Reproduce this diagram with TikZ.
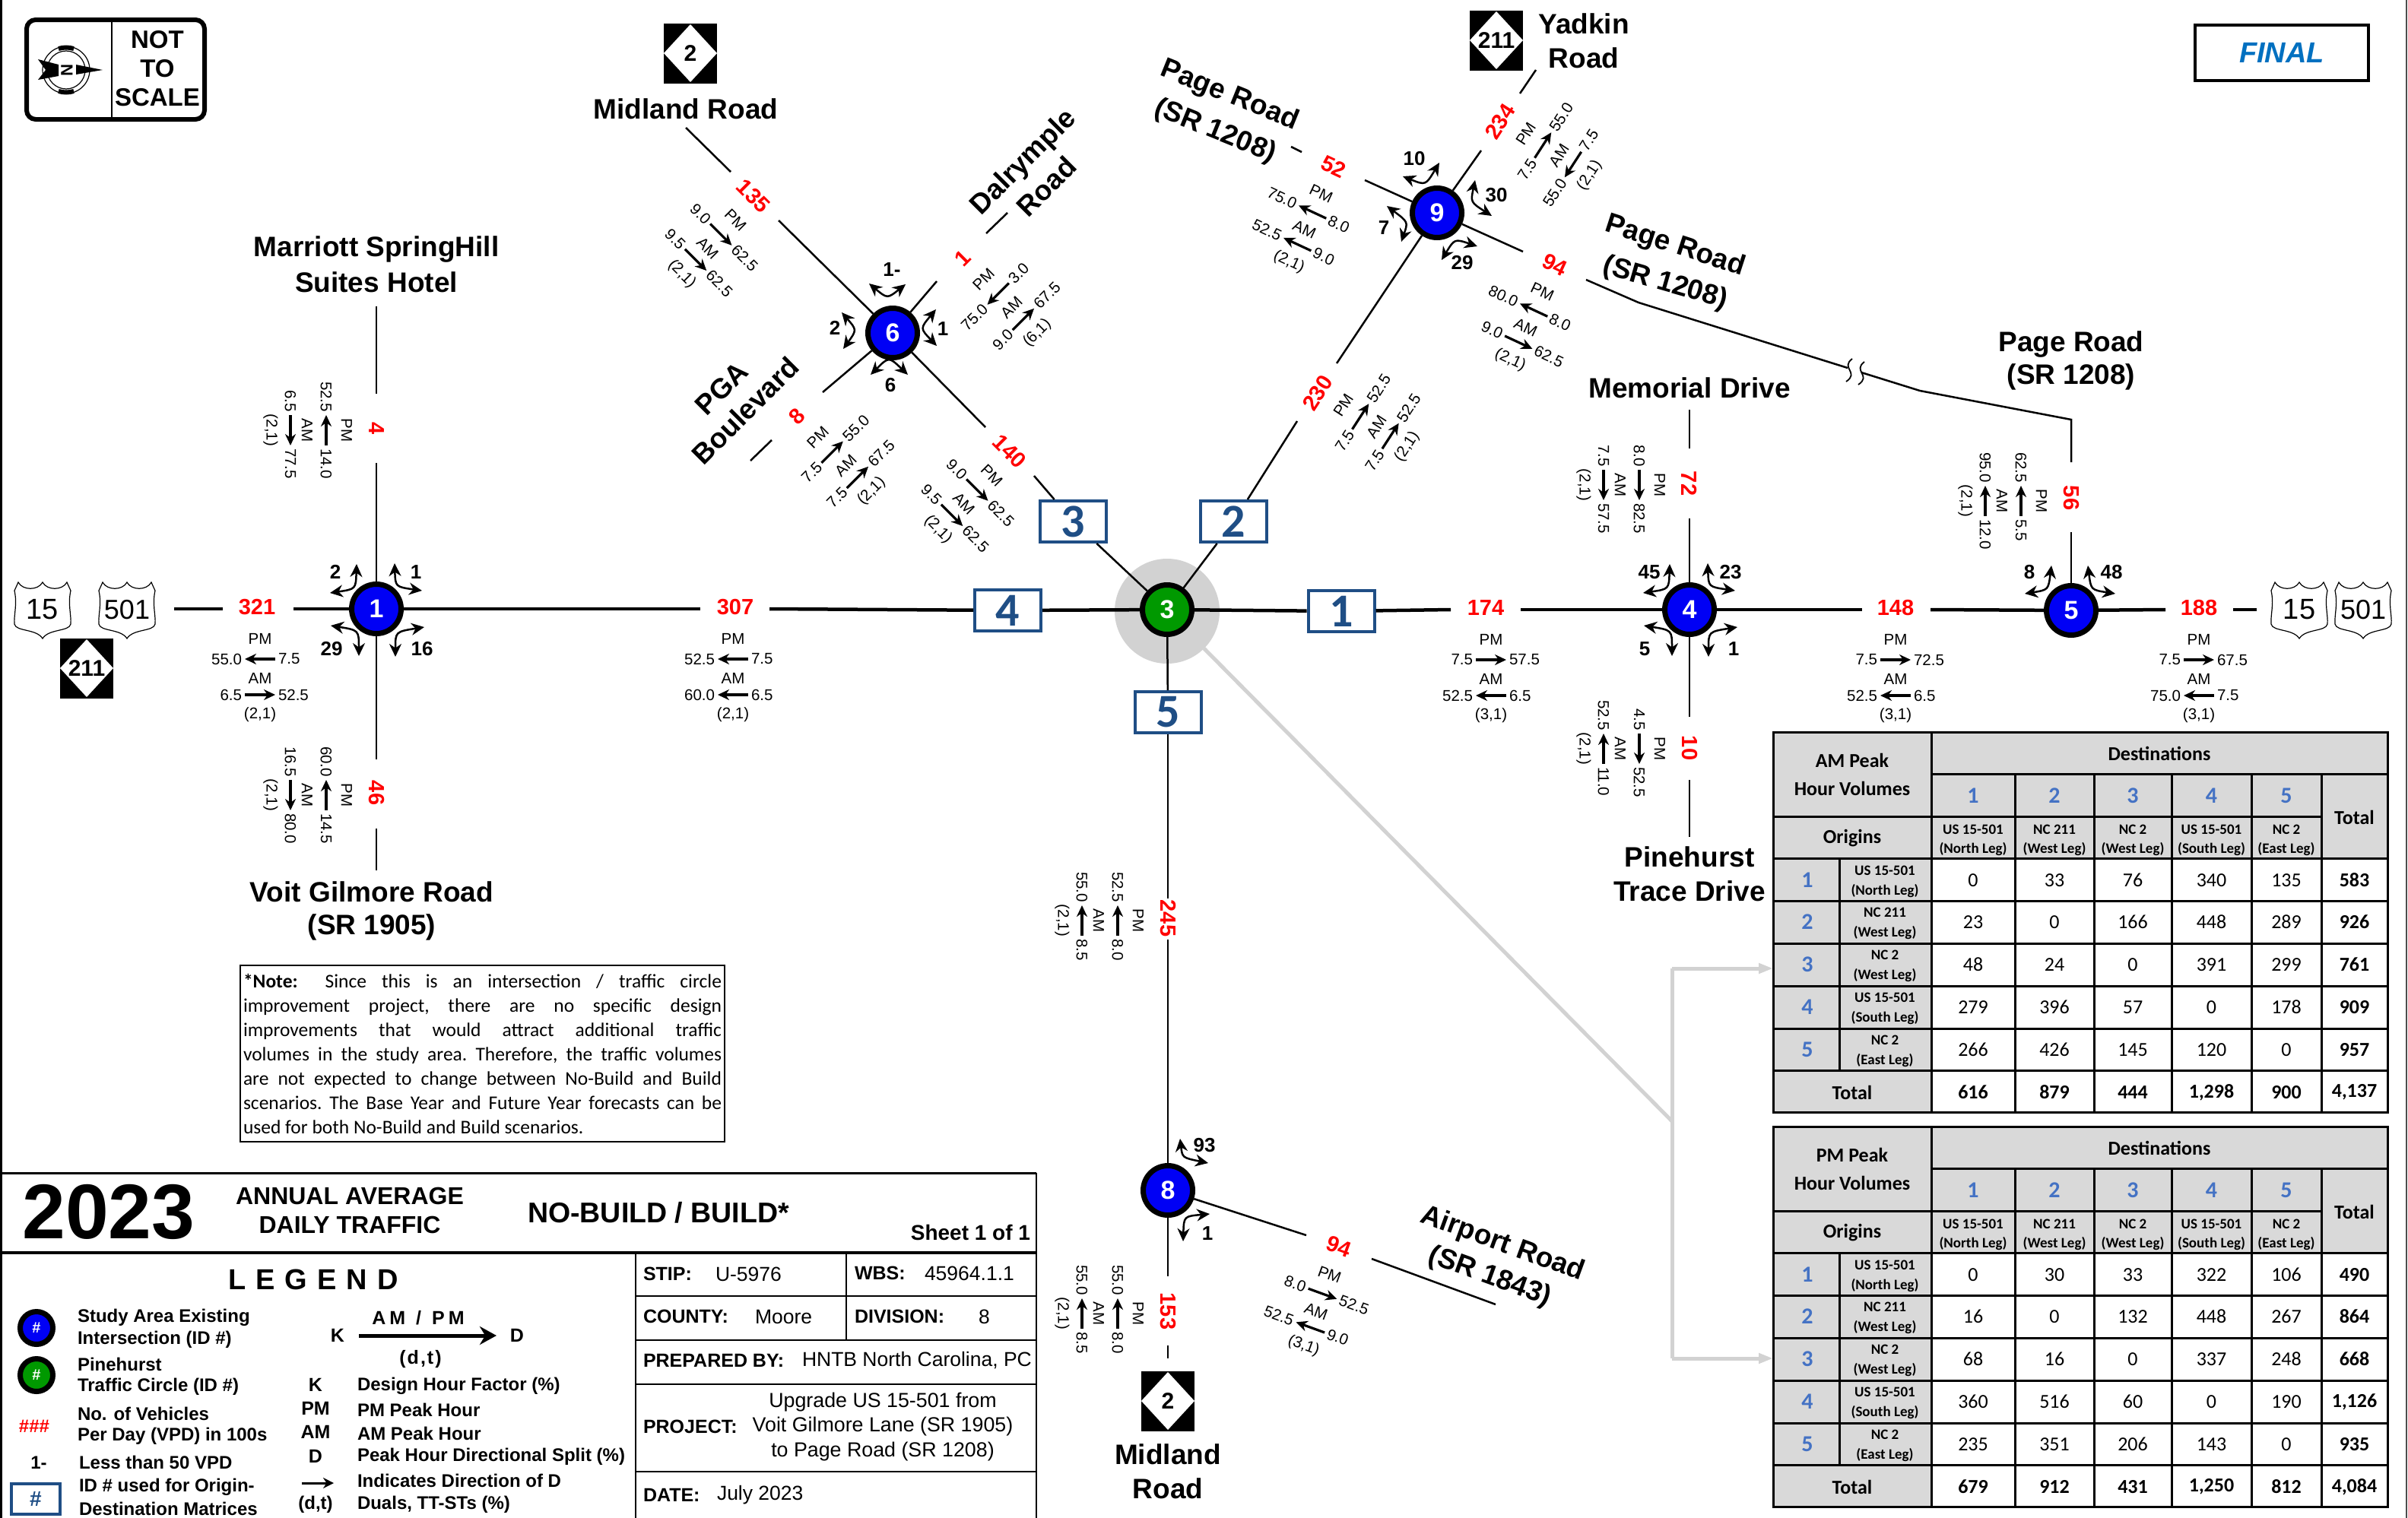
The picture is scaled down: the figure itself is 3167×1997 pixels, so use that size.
\documentclass[tikz,border=0pt]{standalone}
\usepackage{fontspec}
\setmainfont{Liberation Sans}
\newfontfamily\carl{Carlito}
\usetikzlibrary{arrows.meta,shapes.geometric}
\definecolor{boxblue}{HTML}{1F4E85}
\definecolor{tabgray}{HTML}{D9D9D9}
\definecolor{halogray}{HTML}{D2D2D2}
\definecolor{tabblue}{HTML}{4472C4}
\definecolor{finalblue}{HTML}{0070C0}
\definecolor{nodeblue}{HTML}{0000F5}
\definecolor{nodegreen}{HTML}{009900}
\newcounter{tn}
\newcommand{\FS}[1]{\fontsize{#1}{#1}\selectfont}
\tikzset{
  lbl/.style={inner sep=0pt,outer sep=0pt},
  vt/.style={font=\FS{20.5}},
  rdt/.style={font=\FS{29}\bfseries,text=red},
  turnnum/.style={font=\FS{26}\bfseries},
  rname/.style={font=\FS{37}\bfseries},
  isect/.style={circle,draw=black,line width=7pt,fill=nodeblue,minimum size=65pt,inner sep=0pt,text=white,font=\FS{34}\bfseries},
  odbox/.style={rectangle,draw=boxblue,line width=4pt,fill=white,minimum width=87pt,minimum height=54pt,inner sep=0pt,text=boxblue,font=\carl\FS{62}\bfseries},
  mainroad/.style={line width=4.5pt},
  thinroad/.style={line width=2.5pt},
  volarrow/.style={line width=3.2pt,>={Stealth[length=15pt,width=14pt]}},
  turnarrow/.style={line width=2.5pt,{Stealth[length=17pt,width=16pt]}-{Stealth[length=17pt,width=16pt]}},
  greyline/.style={line width=5pt,draw=halogray},
  tabline/.style={line width=3pt},
  legtxt/.style={font=\FS{24}\bfseries,anchor=west},
  blk/.style={font=\FS{25}\bfseries,anchor=west},
  blv/.style={font=\FS{26.5},anchor=west},
  tdat/.style={font=\carl\FS{26}},
  tbold/.style={font=\carl\FS{26}\bfseries},
  tsub/.style={font=\carl\FS{19}\bfseries},
  tidx/.style={font=\carl\FS{30}\bfseries,text=tabblue},
}
\newcommand{\mytx}[3]{\stepcounter{tn}\node[lbl,#1] (t\arabic{tn}) at (#2) {#3};}
\newcommand{\redl}[3]{\mytx{rdt,rotate=#2}{#1}{#3}}
\newcommand{\myvol}[9]{\begin{scope}[shift={(#1)},rotate=#2,transform shape]
  \mytx{vt}{0,39}{PM}
  \mytx{vt,anchor=east}{-24,66}{#3}
  \draw[volarrow,#4] (-20,66) -- (20,66);
  \mytx{vt,anchor=west}{24,66}{#5}
  \mytx{vt}{0,91}{AM}
  \mytx{vt,anchor=east}{-24,113}{#6}
  \draw[volarrow,#7] (-20,113) -- (20,113);
  \mytx{vt,anchor=west}{24,113}{#8}
  \mytx{vt}{0,139}{#9}
\end{scope}}
\newcommand{\myturn}[3]{\draw[turnarrow] (#1) .. controls (#2) .. (#3);}
\newcommand{\ncsign}[3]{\begin{scope}[shift={(#1)}]
  \fill[black] (-35,-39.5) rectangle (35,39.5);
  \fill[white] (0,-38) -- (35,0) -- (0,38) -- (-35,0) -- cycle;
  \mytx{font=\FS{#3}\bfseries}{0,0}{#2}
\end{scope}}
\newcommand{\ussign}[3]{\begin{scope}[shift={(#1)}]
  \draw[line width=1.2pt,fill=white] (-37,-26) -- (-32,-37) .. controls (-26,-26) and (-6,-26) .. (0,-37)
     .. controls (6,-26) and (26,-26) .. (32,-37) -- (37,-26)
     .. controls (33,-8) and (38,6) .. (37,18) .. controls (35,28) and (8,24) .. (0,37)
     .. controls (-8,24) and (-35,28) .. (-37,18) .. controls (-38,6) and (-33,-8) .. (-37,-26) -- cycle;
  \mytx{font=\FS{#3}}{0,-1}{#2}
\end{scope}}
\newcommand{\trow}[7]{
  \mytx{tdat}{2595,#1}{#2}\mytx{tdat}{2702,#1}{#3}\mytx{tdat}{2805,#1}{#4}
  \mytx{tdat}{2908.5,#1}{#5}\mytx{tdat}{3007,#1}{#6}\mytx{tbold}{3096.5,#1}{#7}}
\newcommand{\tleft}[4]{
  \mytx{tidx}{2377,#1}{#2}\mytx{tsub}{2479,#1-13}{#3}\mytx{tsub}{2479,#1+14}{#4}}
\newcommand{\odtable}[2]{\begin{scope}[shift={(0,#1)}]
  \fill[tabgray] (2332,963) rectangle (3140,1129);
  \fill[tabgray] (2332,1129) rectangle (2540,1463);
  \draw[tabline] (2332,963) rectangle (3140,1463);
  \draw[tabline] (2540,1018) -- (3140,1018);
  \draw[tabline] (2332,1074) -- (3053,1074);
  \foreach \yy in {1129,1185,1241,1297,1353,1408} \draw[tabline] (2332,\yy) -- (3140,\yy);
  \draw[tabline] (2540,963) -- (2540,1463);
  \draw[tabline] (2419,1129) -- (2419,1408);
  \foreach \xx in {2650,2754,2856,2961,3053} \draw[tabline] (\xx,1018) -- (\xx,1463);
  \mytx{tbold}{2436,1000}{#2 Peak}
  \mytx{tbold}{2436,1037}{Hour Volumes}
  \mytx{tbold}{2840,991}{Destinations}
  \mytx{tbold}{2436,1103}{Origins}
  \mytx{tbold}{3096.5,1075}{Total}
  \mytx{tidx}{2595,1047}{1}\mytx{tidx}{2702,1047}{2}\mytx{tidx}{2805,1047}{3}\mytx{tidx}{2908.5,1047}{4}\mytx{tidx}{3007,1047}{5}
  \mytx{tsub}{2595,1091}{US 15-501}\mytx{tsub}{2595,1117}{(North Leg)}
  \mytx{tsub}{2702,1091}{NC 211}\mytx{tsub}{2702,1117}{(West Leg)}
  \mytx{tsub}{2805,1091}{NC 2}\mytx{tsub}{2805,1117}{(West Leg)}
  \mytx{tsub}{2908.5,1091}{US 15-501}\mytx{tsub}{2908.5,1117}{(South Leg)}
  \mytx{tsub}{3007,1091}{NC 2}\mytx{tsub}{3007,1117}{(East Leg)}
  \tleft{1158}{1}{US 15-501}{(North Leg)}
  \tleft{1213}{2}{NC 211}{(West Leg)}
  \tleft{1269}{3}{NC 2}{(West Leg)}
  \tleft{1325}{4}{US 15-501}{(South Leg)}
  \tleft{1381}{5}{NC 2}{(East Leg)}
  \mytx{tbold}{2436,1437}{Total}
\end{scope}}
\newcommand{\jl}[1]{\hbox to \linewidth{#1}\par}
\begin{document}
\begin{tikzpicture}[x=1pt,y=-1pt]
\useasboundingbox (0,0) rectangle (3167,1997);
\fill[white] (0,0) rectangle (3167,1997);
\draw[line width=4pt] (1,0) -- (1,1997);
\draw[line width=1.5pt,draw=black!70] (3165,0) -- (3165,1997);

% north / scale sign
\draw[line width=6pt,rounded corners=12pt] (35,26) rectangle (269,157);
\draw[line width=2.5pt] (147,26) -- (147,157);
\mytx{font=\FS{33}\bfseries}{207,52}{NOT}
\mytx{font=\FS{33}\bfseries}{207,90}{TO}
\mytx{font=\FS{33}\bfseries}{207,128}{SCALE}
\draw[line width=1.2pt] (87,92) circle[radius=31pt];
\draw[line width=1.2pt] (87,92) circle[radius=25pt];
\draw[line width=6pt] (77,64) .. controls (84,62) and (90,62) .. (97,64);
\draw[line width=6pt] (77,120) .. controls (84,122) and (90,122) .. (97,120);
\fill (50,78) -- (77,85) -- (77,100) -- (50,105) -- (60,92) -- cycle;
\fill (100,85) -- (135,92) -- (100,98) -- cycle;
\mytx{font=\FS{22}\bfseries,rotate=-90}{88,92}{N}

% FINAL
\node[lbl,draw=black,line width=3.5pt,minimum width=228pt,minimum height=73pt,text=finalblue,font=\FS{38}\bfseries\itshape] (finalbox) at (3001,69.5) {FINAL};

% intersections
\node[lbl,circle,fill=halogray,minimum size=138pt] (halo) at (1535,804) {};
\coordinate (gj) at (2199,1475);
\coordinate (gt) at (2199,1274);
\coordinate (gb) at (2199,1787);
\coordinate (gat) at (2332,1274);
\coordinate (gab) at (2332,1787);
\draw[greyline] (halo) -- (gj);
\draw[greyline] (gt) -- (gb);
\draw[greyline,-{Triangle[length=19pt,width=13pt]}] (gt) -- (gat);
\draw[greyline,-{Triangle[length=19pt,width=13pt]}] (gb) -- (gab);

\node[isect] (n1) at (495,801) {1};
\node[isect,fill=nodegreen] (n3) at (1535,802) {3};
\node[isect] (n4) at (2222,802) {4};
\node[isect] (n5) at (2724,803) {5};
\node[isect] (n6) at (1174,438) {6};
\node[isect] (n8) at (1536,1566) {8};
\node[isect] (n9) at (1890,280) {9};

\node[odbox] (box1) at (1764,804) {1};
\node[odbox] (box2) at (1622.5,686) {2};
\node[odbox] (box3) at (1411.5,686) {3};
\node[odbox] (box4) at (1325.5,803) {4};
\node[odbox] (box5) at (1536,937) {5};

% horizontal road
\coordinate (h1) at (229,801); \coordinate (h2) at (293,801); \coordinate (h3) at (386,801);
\coordinate (h4) at (921,801); \coordinate (h5) at (1012,801);
\coordinate (h6) at (1908,802); \coordinate (h7) at (2000,802);
\coordinate (h8) at (2449,802); \coordinate (h9) at (2539,802);
\coordinate (h10) at (2848,802); \coordinate (h11) at (2937,802); \coordinate (h12) at (2968,802);
\draw[mainroad] (h1) -- (h2);
\draw[mainroad] (h3) -- (n1);
\draw[mainroad] (n1) -- (h4);
\draw[mainroad] (h5) -- (box4);
\draw[mainroad] (box4) -- (n3);
\draw[mainroad] (n3) -- (box1);
\draw[mainroad] (box1) -- (h6);
\draw[mainroad] (h7) -- (n4);
\draw[mainroad] (n4) -- (h8);
\draw[mainroad] (h9) -- (n5);
\draw[mainroad] (n5) -- (h10);
\draw[mainroad] (h11) -- (h12);

% N1 legs
\coordinate (a1) at (495,403); \coordinate (a2) at (495,518); \coordinate (a3) at (495,609);
\coordinate (a4) at (495,999); \coordinate (a5) at (495,1090); \coordinate (a6) at (495,1145);
\draw[thinroad] (a1) -- (a2);
\draw[thinroad] (a3) -- (n1);
\draw[thinroad] (n1) -- (a4);
\draw[thinroad] (a5) -- (a6);
% N3 / N8
\draw[thinroad] (n3) -- (box5);
\coordinate (b1) at (1536,1182); \coordinate (b2) at (1536,1236);
\coordinate (b3) at (1536,1679); \coordinate (b4) at (1536,1770); \coordinate (b5) at (1536,1787);
\draw[thinroad] (box5) -- (b1);
\draw[thinroad] (b2) -- (n8);
\draw[thinroad] (n8) -- (b3);
\draw[thinroad] (b4) -- (b5);
\coordinate (c1) at (1718,1625); \coordinate (c2) at (1804,1656); \coordinate (c3) at (1967,1716);
\draw[thinroad] (n8) -- (c1);
\draw[thinroad] (c2) -- (c3);
% N4
\coordinate (d1) at (2222,539); \coordinate (d2) at (2222,590); \coordinate (d3) at (2222,682);
\coordinate (d4) at (2222,943); \coordinate (d5) at (2222,1026); \coordinate (d6) at (2222,1101);
\draw[thinroad] (d1) -- (d2);
\draw[thinroad] (d3) -- (n4);
\draw[thinroad] (n4) -- (d4);
\draw[thinroad] (d5) -- (d6);
% N6
\coordinate (e1) at (902,168); \coordinate (e2) at (961,226); \coordinate (e3) at (1024,290);
\coordinate (e4) at (1296,562); \coordinate (e5) at (1360,626);
\coordinate (e6) at (1232,370); \coordinate (e7) at (1297,307); \coordinate (e8) at (1325,280);
\coordinate (e9) at (1082,516); \coordinate (e10) at (1015,579); \coordinate (e11) at (987,606);
\draw[thinroad] (e1) -- (e2);
\draw[thinroad] (e3) -- (n6);
\draw[thinroad] (n6) -- (e4);
\draw[thinroad] (e5) -- (box3);
\draw[thinroad] (box3) -- (n3);
\draw[thinroad] (n6) -- (e6);
\draw[thinroad] (e7) -- (e8);
\draw[thinroad] (n6) -- (e9);
\draw[thinroad] (e10) -- (e11);
% N9
\coordinate (f1) at (1698,193); \coordinate (f2) at (1712,200); \coordinate (f3) at (1795,237);
\coordinate (f4) at (2003,331); \coordinate (f5) at (2086,368); \coordinate (f6) at (2155,398);
\coordinate (f7) at (2430,484); \coordinate (f8) at (2448,490); \coordinate (f9) at (2525,514);
\coordinate (f10) at (2724,552); \coordinate (f11) at (2724,608); \coordinate (f12) at (2724,700);
\coordinate (f13) at (1948,198); \coordinate (f14) at (1999,123); \coordinate (f15) at (2020,92);
\coordinate (f16) at (1758,478); \coordinate (f17) at (1706,554);
\draw[thinroad] (f1) -- (f2);
\draw[thinroad] (f3) -- (n9);
\draw[thinroad] (n9) -- (f4);
\draw[thinroad] (f5) -- (f6) -- (f7);
\draw[thinroad] (f8) -- (f9) -- (f10) -- (f11);
\draw[thinroad] (f12) -- (n5);
\draw[thinroad] (n9) -- (f13);
\draw[thinroad] (f14) -- (f15);
\draw[thinroad] (n9) -- (f16);
\draw[thinroad] (f17) -- (box2);
\draw[thinroad] (box2) -- (n3);
\draw[line width=1.8pt] (2436,472) .. controls (2420,484) and (2446,490) .. (2428,502);
\draw[line width=1.8pt] (2452,476) .. controls (2436,488) and (2462,494) .. (2444,506);

% turning arrows N1
\myturn{469,742}{468,775}{434,780}
\myturn{519,741}{520,772}{555,777}
\myturn{435,823}{472,829}{472,863}
\myturn{558,825}{520,831}{520,864}
\mytx{turnnum}{441,752}{2}\mytx{turnnum}{547,753}{1}\mytx{turnnum}{436,854}{29}\mytx{turnnum}{555,854}{16}
% N4
\myturn{2196,742}{2195,775}{2161,780}
\myturn{2246,741}{2247,772}{2282,777}
\myturn{2162,823}{2199,829}{2199,863}
\myturn{2285,825}{2247,831}{2247,864}
\mytx{turnnum}{2169,753}{45}\mytx{turnnum}{2276,753}{23}\mytx{turnnum}{2163,854}{5}\mytx{turnnum}{2280,854}{1}
% N5
\myturn{2698,744}{2694,776}{2663,781}
\myturn{2746,744}{2750,776}{2782,781}
\mytx{turnnum}{2669,753}{8}\mytx{turnnum}{2777,753}{48}
% N8
\myturn{1552,1498}{1555,1523}{1589,1530}
\myturn{1591,1597}{1557,1600}{1556,1633}
\mytx{turnnum}{1584,1507}{93}\mytx{turnnum}{1588,1623}{1}
% N6
\myturn{1143,373}{1167,393}{1191,374}
\myturn{1231,407}{1210,432}{1232,455}
\myturn{1145,493}{1169,469}{1194,493}
\myturn{1107,411}{1127,434}{1109,459}
\mytx{turnnum}{1173,355}{1-}\mytx{turnnum}{1240,433}{1}\mytx{turnnum}{1171,507}{6}\mytx{turnnum}{1098,431}{2}
% N9
\myturn{1893,214}{1875,244}{1845,232}
\myturn{1940,237}{1934,266}{1962,284}
\myturn{1943,324}{1913,314}{1896,342}
\myturn{1824,271}{1852,292}{1843,318}
\mytx{turnnum}{1860,209}{10}\mytx{turnnum}{1968,257}{30}\mytx{turnnum}{1923,346}{29}\mytx{turnnum}{1820,300}{7}

% red volumes
\redl{338,799}{0}{321}
\redl{967,799}{0}{307}
\redl{1954,800}{0}{174}
\redl{2493,800}{0}{148}
\redl{2892,800}{0}{188}
\redl{495,564}{-90}{4}
\redl{495,1043}{-90}{46}
\redl{2222,636}{-90}{72}
\redl{2222,984}{-90}{10}
\redl{2724,655}{-90}{56}
\redl{1536,1208}{-90}{245}
\redl{1536,1725}{-90}{153}
\redl{991,258}{-45}{135}
\redl{1328,594}{-45}{140}
\redl{1266,340}{45}{1}
\redl{1048,548}{45}{8}
\redl{1754,219}{-25}{52}
\redl{2045,348}{-25}{94}
\redl{1733,517}{57}{230}
\redl{1973,160}{57}{234}
\redl{1761,1640}{-20}{94}

% volume blocks
\myvol{342,801}{0}{55.0}{<-}{7.5}{6.5}{->}{52.5}{(2,1)}
\myvol{964,801}{0}{52.5}{<-}{7.5}{60.0}{<-}{6.5}{(2,1)}
\myvol{1961,802}{0}{7.5}{->}{57.5}{52.5}{<-}{6.5}{(3,1)}
\myvol{2493,802}{0}{7.5}{->}{72.5}{52.5}{<-}{6.5}{(3,1)}
\myvol{2892,802}{0}{7.5}{->}{67.5}{75.0}{<-}{7.5}{(3,1)}
\myvol{495,566}{-90}{52.5}{<-}{14.0}{6.5}{->}{77.5}{(2,1)}
\myvol{495,1046}{-90}{60.0}{<-}{14.5}{16.5}{->}{80.0}{(2,1)}
\myvol{2222,638}{-90}{8.0}{->}{82.5}{7.5}{->}{57.5}{(2,1)}
\myvol{2222,985}{-90}{4.5}{->}{52.5}{52.5}{<-}{11.0}{(2,1)}
\myvol{2724,659}{-90}{62.5}{<-}{5.5}{95.0}{<-}{12.0}{(2,1)}
\myvol{1536,1211}{-90}{52.5}{<-}{8.0}{55.0}{<-}{8.5}{(2,1)}
\myvol{1536,1728}{-90}{55.0}{<-}{8.0}{55.0}{<-}{8.5}{(2,1)}
\myvol{995,262}{-45}{9.0}{->}{62.5}{9.5}{->}{62.5}{(2,1)}
\myvol{1332,598}{-45}{9.0}{->}{62.5}{9.5}{->}{62.5}{(2,1)}
\myvol{1266,340}{45}{75.0}{<-}{3.0}{9.0}{->}{67.5}{(6,1)}
\myvol{1048,548}{45}{7.5}{->}{55.0}{7.5}{->}{67.5}{(2,1)}
\myvol{1754,219}{-25}{75.0}{<-}{8.0}{52.5}{<-}{9.0}{(2,1)}
\myvol{2045,348}{-25}{80.0}{<-}{8.0}{9.0}{->}{62.5}{(2,1)}
\myvol{1734,512}{57}{7.5}{->}{52.5}{7.5}{->}{52.5}{(2,1)}
\myvol{1974,155}{57}{7.5}{->}{55.0}{55.0}{<-}{7.5}{(2,1)}
\myvol{1762,1640}{-20}{8.0}{->}{52.5}{52.5}{<-}{9.0}{(3,1)}

% route signs
\ussign{56,803}{15}{38}
\ussign{167,803}{501}{36}
\ussign{3024,803}{15}{38}
\ussign{3108,803}{501}{36}
\ncsign{114,879}{211}{30}
\ncsign{908,70}{2}{30}
\ncsign{1968,53}{211}{30}
\ncsign{1536,1843}{2}{30}

% road names
\mytx{rname}{495,328}{Marriott SpringHill}
\mytx{rname}{495,371}{Suites Hotel}
\mytx{rname}{902,143}{Midland Road}
\mytx{rname}{2083,31}{Yadkin}
\mytx{rname}{2083,76}{Road}
\mytx{rname}{489,1173}{Voit Gilmore Road}
\mytx{rname}{489,1220}{(SR 1905)}
\mytx{rname}{2222,510}{Memorial Drive}
\mytx{rname}{2724,453}{Page Road}
\mytx{rname}{2724,496}{(SR 1208)}
\mytx{rname}{2222,1127}{Pinehurst}
\mytx{rname}{2222,1172}{Trace Drive}
\mytx{rname}{1536,1913}{Midland}
\mytx{rname}{1536,1958}{Road}
\mytx{rname,rotate=-22}{1617,126}{Page Road}
\mytx{rname,rotate=-22}{1598,173}{(SR 1208)}
\mytx{rname,rotate=-18}{2203,324}{Page Road}
\mytx{rname,rotate=-16}{2190,373}{(SR 1208)}
\mytx{rname,rotate=45}{1347,214}{Dalrymple}
\mytx{rname,rotate=45}{1376,245}{Road}
\mytx{rname,rotate=45}{949,511}{PGA}
\mytx{rname,rotate=45}{980,540}{Boulevard}
\mytx{rname,rotate=-20}{1976,1637}{Airport Road}
\mytx{rname,rotate=-20}{1959,1680}{(SR 1843)}

% note
\node[lbl,draw=black,line width=2.5pt,minimum width=637pt,minimum height=232pt,font=\carl\FS{25.5}] (note) at (634.5,1386) {\begin{minipage}{629pt}\frenchspacing\baselineskip=32pt\parindent=0pt
\jl{\textbf{*Note:}\hspace{16pt} Since this is an intersection / traffic circle}
\jl{improvement project, there are no specific design}
\jl{improvements that would attract additional traffic}
\jl{volumes in the study area. Therefore, the traffic volumes}
\jl{are not expected to change between No-Build and Build}
\jl{scenarios. The Base Year and Future Year forecasts can be}
\hbox{used for both No-Build and Build scenarios.}
\end{minipage}};

% title block
\draw[line width=3pt] (0,1543) -- (1363,1543);
\draw[line width=4pt] (0,1648) -- (1363,1648);
\draw[line width=2.5pt] (1363,1543) -- (1363,1997);
\draw[line width=2.5pt] (836,1648) -- (836,1997);
\draw[line width=2.5pt] (1113,1648) -- (1113,1763);
\foreach \yy in {1705,1763,1821,1936} \draw[line width=2.5pt] (836,\yy) -- (1363,\yy);
\mytx{font=\FS{102}\bfseries}{143,1594}{2023}
\mytx{font=\FS{32}\bfseries}{460,1573}{ANNUAL AVERAGE}
\mytx{font=\FS{32}\bfseries}{460,1611}{DAILY TRAFFIC}
\mytx{font=\FS{37.5}\bfseries}{866,1595}{NO-BUILD / BUILD*}
\mytx{font=\FS{28}\bfseries,anchor=east}{1355,1621}{Sheet 1 of 1}
\mytx{blk}{846,1676}{STIP:}\mytx{blv}{941,1676}{U-5976}
\mytx{blk}{1124,1675}{WBS:}\mytx{blv}{1216,1675}{45964.1.1}
\mytx{blk}{846,1732}{COUNTY:}\mytx{blv}{993,1732}{Moore}
\mytx{blk}{1124,1732}{DIVISION:}\mytx{blv}{1287,1732}{8}
\mytx{blk}{846,1790}{PREPARED BY:}\mytx{blv}{1055,1790}{HNTB North Carolina, PC}
\mytx{blk}{846,1877}{PROJECT:}
\mytx{font=\FS{26.8}}{1161,1845}{Upgrade US 15-501 from}
\mytx{font=\FS{26.8}}{1161,1877}{Voit Gilmore Lane (SR 1905)}
\mytx{font=\FS{26.8}}{1161,1910}{to Page Road (SR 1208)}
\mytx{blk}{846,1967}{DATE:}\mytx{blv}{943,1967}{July 2023}

% legend
\mytx{font=\FS{38}\bfseries}{412,1683}{L\hspace{13pt}E\hspace{13pt}G\hspace{13pt}E\hspace{13pt}N\hspace{13pt}D}
\node[isect,minimum size=43pt,font=\FS{20}\bfseries] (lega) at (48,1747) {\#};
\node[isect,fill=nodegreen,minimum size=43pt,font=\FS{20}\bfseries] (legb) at (48,1809) {\#};
\mytx{legtxt}{102,1733}{Study Area Existing}
\mytx{legtxt}{102,1762}{Intersection (ID \#)}
\mytx{legtxt}{102,1795}{Pinehurst}
\mytx{legtxt}{102,1824}{Traffic Circle (ID \#)}
\mytx{legtxt}{102,1860}{No. of Vehicles}
\mytx{legtxt}{102,1889}{Per Day (VPD) in 100s}
\mytx{legtxt}{104,1924}{Less than 50 VPD}
\mytx{legtxt}{104,1956}{ID \# used for Origin-}
\mytx{legtxt}{104,1985}{Destination Matrices}
\mytx{font=\FS{24}\bfseries,text=red}{45,1876}{\#\#\#}
\mytx{font=\FS{24}\bfseries}{51,1924}{1-}
\node[lbl,rectangle,draw=boxblue,line width=3.5pt,fill=white,minimum width=64pt,minimum height=40pt,text=boxblue,font=\FS{28}\bfseries] (legbox) at (47,1972) {\#};
\node[lbl,font=\FS{25}\bfseries] (legK) at (444,1757) {K};
\node[lbl,font=\FS{25}\bfseries] (legD) at (680,1757) {D};
\draw[line width=5pt,-{Stealth[length=22pt,width=24pt]},shorten <=19pt,shorten >=18pt] (legK) -- (legD);
\mytx{font=\FS{25}\bfseries}{550,1734}{A\hspace{5pt}M\hspace{14pt}/\hspace{14pt}P\hspace{5pt}M}
\mytx{font=\FS{25}\bfseries}{553,1788}{(\hspace{2pt}d\hspace{2pt},\hspace{2pt}t\hspace{2pt})}
\mytx{font=\FS{25}\bfseries}{415,1822}{K}
\mytx{font=\FS{25}\bfseries}{415,1853}{PM}
\mytx{font=\FS{25}\bfseries}{415,1884}{AM}
\mytx{font=\FS{25}\bfseries}{415,1916}{D}
\mytx{font=\FS{24}\bfseries}{415,1979}{(d,t)}
\mytx{legtxt}{470,1823}{Design Hour Factor (\%)}
\mytx{legtxt}{470,1855}{PM Peak Hour}
\mytx{legtxt}{470,1886}{AM Peak Hour}
\mytx{legtxt}{470,1916}{Peak Hour Directional Split (\%)}
\mytx{legtxt}{470,1948}{Indicates Direction of D}
\mytx{legtxt}{470,1979}{Duals, TT-STs (\%)}
\coordinate (la1) at (397,1951); \coordinate (la2) at (439,1951);
\draw[line width=3pt,-{Stealth[length=14pt,width=14pt]}] (la1) -- (la2);

% OD tables
\odtable{0}{AM}
\trow{1158}{0}{33}{76}{340}{135}{583}
\trow{1213}{23}{0}{166}{448}{289}{926}
\trow{1269}{48}{24}{0}{391}{299}{761}
\trow{1325}{279}{396}{57}{0}{178}{909}
\trow{1381}{266}{426}{145}{120}{0}{957}
\mytx{tbold}{2595,1437}{616}\mytx{tbold}{2702,1437}{879}\mytx{tbold}{2805,1437}{444}\mytx{tbold}{2908.5,1437}{1,298}\mytx{tbold}{3007,1437}{900}\mytx{tbold}{3096.5,1437}{4,137}
\odtable{519}{PM}
\begin{scope}[shift={(0,519)}]
\trow{1158}{0}{30}{33}{322}{106}{490}
\trow{1213}{16}{0}{132}{448}{267}{864}
\trow{1269}{68}{16}{0}{337}{248}{668}
\trow{1325}{360}{516}{60}{0}{190}{1,126}
\trow{1381}{235}{351}{206}{143}{0}{935}
\mytx{tbold}{2595,1437}{679}\mytx{tbold}{2702,1437}{912}\mytx{tbold}{2805,1437}{431}\mytx{tbold}{2908.5,1437}{1,250}\mytx{tbold}{3007,1437}{812}\mytx{tbold}{3096.5,1437}{4,084}
\end{scope}
\end{tikzpicture}
\end{document}
